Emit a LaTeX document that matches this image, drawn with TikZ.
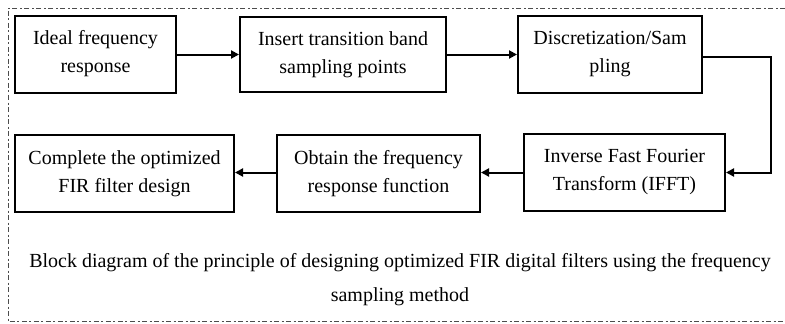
\documentclass[tikz,border=0pt]{standalone}
\usepackage{fontspec}
\setmainfont{Liberation Serif}
\usetikzlibrary{arrows.meta}
\begin{document}
\begin{tikzpicture}[x=1pt,y=-1pt,
  blk/.style={draw,line width=2pt,align=center,inner sep=0pt,font=\fontsize{20}{28}\selectfont},
  conn/.style={line width=2pt,-{Triangle[length=8pt,width=8pt]}},
  frame/.style={draw=black!70,line width=0.8pt,dash pattern=on 5pt off 2.5pt on 2pt off 2.5pt}]
\useasboundingbox (0,0) rectangle (785,324);
\draw[frame] (785,8) -- (8,8) -- (8,321) -- (785,321);
\node[blk,minimum width=161pt,minimum height=77pt] (b1) at (95.5,54) {Ideal frequency\\response};
\node[blk,minimum width=206pt,minimum height=75pt] (b2) at (343,54.5) {Insert transition band\\sampling points};
\node[blk,minimum width=184pt,minimum height=77pt] (b3) at (610,54.5) {Discretization/Sam\\pling};
\node[blk,minimum width=201pt,minimum height=77pt] (b4) at (624.5,172.5) {Inverse Fast Fourier\\Transform (IFFT)};
\node[blk,minimum width=203pt,minimum height=77pt] (b5) at (378.5,173.5) {Obtain the frequency\\response function};
\node[blk,minimum width=219pt,minimum height=77pt] (b6) at (124.5,173.5) {Complete the optimized\\FIR filter design};
\coordinate (c1) at (771,56.5);
\coordinate (c2) at (771,172.5);
\draw[conn] (b1.east |- b2.west) -- (b2.west);
\draw[conn] (b2.east) -- (b3.west);
\draw[conn] (b3.east |- c1) -- (c1) -- (c2) -- (b4.east);
\draw[conn] (b4.west) -- (b5.east |- b4.west);
\draw[conn] (b5.west |- b4.west) -- (b6.east |- b4.west);
\node[align=center,font=\fontsize{20}{34}\selectfont] (cap) at (400,280) {Block diagram of the principle of designing optimized FIR digital filters using the frequency\\sampling method};
\end{tikzpicture}
\end{document}
